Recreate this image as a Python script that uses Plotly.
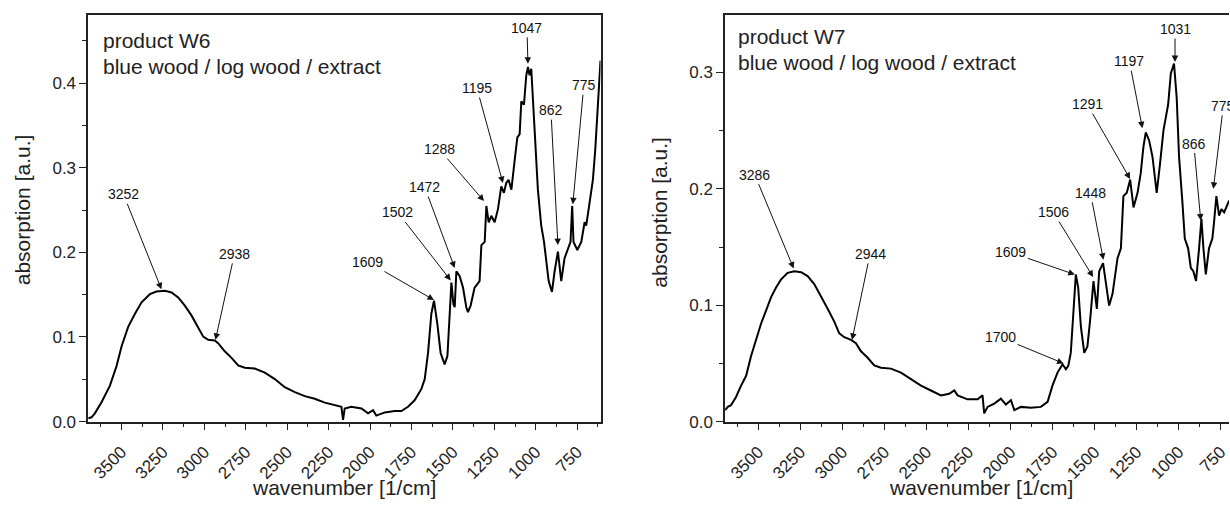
import plotly.graph_objects as go

W, H = 1230, 509

# ---------------- data ----------------
W6_WN = [3701, 3681, 3661, 3620, 3570, 3530, 3500, 3460, 3419, 3379, 3329, 3289, 3238, 3198, 3158,
         3118, 3078, 3037, 3007, 2977, 2937, 2917, 2877, 2836, 2796, 2756, 2696, 2635, 2575, 2515,
         2454, 2394, 2334, 2273, 2213, 2173, 2163, 2153, 2113, 2052, 2012, 1982, 1962, 1911, 1851,
         1811, 1771, 1731, 1690, 1670, 1650, 1630, 1614, 1594, 1574, 1550, 1533, 1519, 1509, 1497,
         1489, 1479, 1459, 1439, 1419, 1409, 1393, 1369, 1339, 1328, 1308, 1298, 1284, 1268, 1248,
         1228, 1208, 1192, 1178, 1164, 1147, 1127, 1111, 1097, 1087, 1071, 1057, 1047, 1037, 1027,
         1017, 1003, 987, 967, 950, 936, 922, 902, 886, 866, 846, 826, 806, 790, 780,
         772, 749, 725, 705, 695, 675, 655, 641, 625, 609]
W6_ABS = [0.0039, 0.0050, 0.0097, 0.0232, 0.0425, 0.0657, 0.0888, 0.1120, 0.1275, 0.1410, 0.1506, 0.1537, 0.1545, 0.1526, 0.1468,
          0.1371, 0.1255, 0.1120, 0.1004, 0.0966, 0.0958, 0.0927, 0.0830, 0.0753, 0.0664, 0.0637, 0.0626, 0.0579, 0.0502, 0.0406,
          0.0348, 0.0301, 0.0270, 0.0224, 0.0193, 0.0174, 0.0019, 0.0155, 0.0174, 0.0155, 0.0097, 0.0135, 0.0070, 0.0108, 0.0124,
          0.0124, 0.0174, 0.0251, 0.0386, 0.0502, 0.0811, 0.1275, 0.1429, 0.1159, 0.0811, 0.0676, 0.0773, 0.1275, 0.1642, 0.1391,
          0.1352, 0.1777, 0.1719, 0.1584, 0.1352, 0.1294, 0.1371, 0.1584, 0.1661, 0.2086, 0.2124, 0.2549, 0.2356, 0.2433, 0.2356,
          0.2511, 0.2781, 0.2704, 0.2820, 0.2858, 0.2742, 0.3090, 0.3360, 0.3399, 0.3785, 0.3747, 0.4094, 0.4191, 0.4094, 0.4171,
          0.3824, 0.3283, 0.2742, 0.2318, 0.2124, 0.1893, 0.1661, 0.1533, 0.1777, 0.2009, 0.1661, 0.1931, 0.2047, 0.2124, 0.2549,
          0.2124, 0.2028, 0.2124, 0.2356, 0.2318, 0.2588, 0.2858, 0.3206, 0.3747, 0.4268]

W7_WN = [3698, 3682, 3663, 3633, 3603, 3573, 3544, 3514, 3484, 3454, 3425, 3395, 3365, 3326, 3286,
         3246, 3207, 3167, 3128, 3088, 3048, 3019, 2989, 2949, 2920, 2890, 2850, 2811, 2771, 2712,
         2652, 2593, 2533, 2474, 2414, 2365, 2335, 2315, 2256, 2196, 2167, 2157, 2137, 2097, 2058,
         2028, 1998, 1978, 1939, 1879, 1820, 1780, 1751, 1721, 1691, 1671, 1657, 1642, 1626, 1612,
         1598, 1582, 1562, 1543, 1527, 1507, 1487, 1473, 1450, 1434, 1414, 1394, 1364, 1344, 1329,
         1309, 1289, 1269, 1245, 1226, 1210, 1196, 1176, 1156, 1131, 1111, 1091, 1077, 1063, 1047,
         1028, 1012, 998, 978, 964, 944, 928, 913, 897, 879, 865, 853, 839, 820, 800,
         790, 776, 760, 746, 730, 700]
W7_ABS = [0.0098, 0.0126, 0.0140, 0.0211, 0.0309, 0.0393, 0.0562, 0.0702, 0.0843, 0.0955, 0.1067, 0.1152, 0.1222, 0.1278, 0.1292,
          0.1284, 0.1250, 0.1180, 0.1081, 0.0969, 0.0857, 0.0758, 0.0725, 0.0702, 0.0674, 0.0604, 0.0548, 0.0483, 0.0463, 0.0455,
          0.0421, 0.0365, 0.0309, 0.0267, 0.0225, 0.0239, 0.0267, 0.0225, 0.0191, 0.0191, 0.0225, 0.0070, 0.0126, 0.0154, 0.0197,
          0.0146, 0.0183, 0.0098, 0.0126, 0.0118, 0.0126, 0.0169, 0.0309, 0.0421, 0.0492, 0.0449, 0.0478, 0.0590, 0.0955, 0.1264,
          0.1152, 0.0815, 0.0590, 0.0646, 0.0871, 0.1208, 0.0969, 0.1292, 0.1362, 0.1208, 0.0997, 0.1096, 0.1404, 0.1489, 0.1938,
          0.1966, 0.2079, 0.1840, 0.1966, 0.2135, 0.2360, 0.2486, 0.2416, 0.2275, 0.1966, 0.2219, 0.2500, 0.2612, 0.2725, 0.2992,
          0.3076, 0.2781, 0.2275, 0.1882, 0.1573, 0.1489, 0.1320, 0.1292, 0.1208, 0.1489, 0.1742, 0.1489, 0.1264, 0.1489, 0.1573,
          0.1713, 0.1938, 0.1770, 0.1826, 0.1798, 0.1900]

W6_PEAK_LABELS = ["3252", "2938", "1609", "1502", "1472", "1288", "1195", "1047", "862", "775"]
W6_PEAK_X = [3259, 2933, 1614, 1513, 1489, 1312, 1198, 1047, 866, 776]
W6_PEAK_Y = [0.1564, 0.0966, 0.1437, 0.1669, 0.1815, 0.2607, 0.2820, 0.4230, 0.2086, 0.2569]

W7_PEAK_LABELS = ["3286", "2944", "1609", "1700", "1506", "1448", "1291", "1197", "1031", "866", "775"]
W7_PEAK_X = [3290, 2943, 1618, 1685, 1509, 1448, 1289, 1216, 1022, 869, 794]
W7_PEAK_Y = [0.1315, 0.0702, 0.1264, 0.0500, 0.1242, 0.1390, 0.2084, 0.2522, 0.3090, 0.1728, 0.2000]

X_TICKS = [3500, 3250, 3000, 2750, 2500, 2250, 2000, 1750, 1500, 1250, 1000, 750]

# ---------------- layout (pixels) ----------------
W6_LABEL_OFFSETS = [(-38, -95), (19, -86), (-66, -38), (-53, -68), (-30, -81), (-45, -52),
                    (-26, -95), (-1, -36), (-7, -135), (11, -119)]
W7_LABEL_OFFSETS = [(-39, -94), (18, -86), (-64, -22), (-63, -26), (-40, -65), (-13, -67),
                    (-43, -75), (-13, -67), (0, -33), (-7, -77), (10, -83)]

def px_x(p):
    return p / W

def px_y(p):
    return 1 - p / H

FONT = "Liberation Sans, Arial, sans-serif"
PLOT_TOP, PLOT_BOTTOM = 15, 430
L_DOM = [px_x(88.3), px_x(601)]
R_DOM = [px_x(725.7), 1.0]
Y_DOM = [px_y(PLOT_BOTTOM), px_y(PLOT_TOP)]

fig = go.Figure()
fig.add_trace(go.Scatter(x=W6_WN, y=W6_ABS, mode="lines", line=dict(color="black", width=2),
                         xaxis="x", yaxis="y", showlegend=False))
fig.add_trace(go.Scatter(x=W7_WN, y=W7_ABS, mode="lines", line=dict(color="black", width=2),
                         xaxis="x2", yaxis="y2", showlegend=False))

axis_common = dict(showgrid=False, zeroline=False, linecolor="#222", linewidth=1.5,
                   ticks="outside", ticklen=7, tickwidth=1.2, tickcolor="#222",
                   tickfont=dict(family=FONT, size=17, color="#222"))

xax = dict(axis_common, tickmode="array", tickvals=X_TICKS, ticktext=[str(v) for v in X_TICKS],
           tickangle=-45, ticklabelstandoff=5, ticklabeloverflow="allow",
           minor=dict(ticks="outside", ticklen=4, tickwidth=1.2, tickcolor="#222", dtick=125, tick0=0))

fig.update_layout(
    width=W, height=H, margin=dict(l=0, r=0, t=0, b=0),
    paper_bgcolor="white", plot_bgcolor="white",
    xaxis=dict(xax, domain=L_DOM, range=[3701, 609], anchor="y", mirror=True),
    yaxis=dict(axis_common, domain=Y_DOM, range=[0, 0.481], anchor="x", mirror=True,
               dtick=0.1, tick0=0, tickformat=".1f",
               minor=dict(ticks="outside", ticklen=4, tickwidth=1.2, tickcolor="#222", dtick=0.05, tick0=0)),
    xaxis2=dict(xax, domain=R_DOM, range=[3698, 701], anchor="y2", mirror=True),
    yaxis2=dict(axis_common, domain=Y_DOM, range=[0, 0.3497], anchor="x2", mirror=False,
                dtick=0.1, tick0=0, tickformat=".1f",
                minor=dict(ticks="outside", ticklen=4, tickwidth=1.2, tickcolor="#222", dtick=0.05, tick0=0)),
)

ann = []
for lab, x, y, (ax, ay) in zip(W6_PEAK_LABELS, W6_PEAK_X, W6_PEAK_Y, W6_LABEL_OFFSETS):
    ann.append(dict(x=x, y=y, xref="x", yref="y", text=lab, showarrow=True, ax=ax, ay=ay,
                    arrowhead=2, arrowsize=1.3, arrowwidth=1, arrowcolor="#111",
                    font=dict(family=FONT, size=14, color="#111")))
for lab, x, y, (ax, ay) in zip(W7_PEAK_LABELS, W7_PEAK_X, W7_PEAK_Y, W7_LABEL_OFFSETS):
    ann.append(dict(x=x, y=y, xref="x2", yref="y2", text=lab, showarrow=True, ax=ax, ay=ay,
                    arrowhead=2, arrowsize=1.3, arrowwidth=1, arrowcolor="#111",
                    font=dict(family=FONT, size=14, color="#111")))

big = dict(family=FONT, size=21, color="#222")
# sample descriptions
for (x0, y1, y2, name) in [(101, 41.7, 68.3, "product W6"), (736.7, 37.7, 63.3, "product W7")]:
    ann.append(dict(x=px_x(x0), y=px_y(y1), xref="paper", yref="paper", text=name, showarrow=False,
                    xanchor="left", yanchor="middle", font=big))
    ann.append(dict(x=px_x(x0), y=px_y(y2), xref="paper", yref="paper", text="blue wood / log wood / extract",
                    showarrow=False, xanchor="left", yanchor="middle", font=big))
# axis titles
for cx in (344.7, 981.7):
    ann.append(dict(x=px_x(cx), y=px_y(497), xref="paper", yref="paper", text="wavenumber [1/cm]",
                    showarrow=False, xanchor="center", yanchor="middle", font=big))
for cx, cy in ((22.5, 214), (659.8, 216.7)):
    ann.append(dict(x=px_x(cx), y=px_y(cy), xref="paper", yref="paper", text="absorption [a.u.]",
                    showarrow=False, xanchor="center", yanchor="middle", textangle=-90, font=big))

fig.update_layout(annotations=ann)
fig.write_html("out.html")
